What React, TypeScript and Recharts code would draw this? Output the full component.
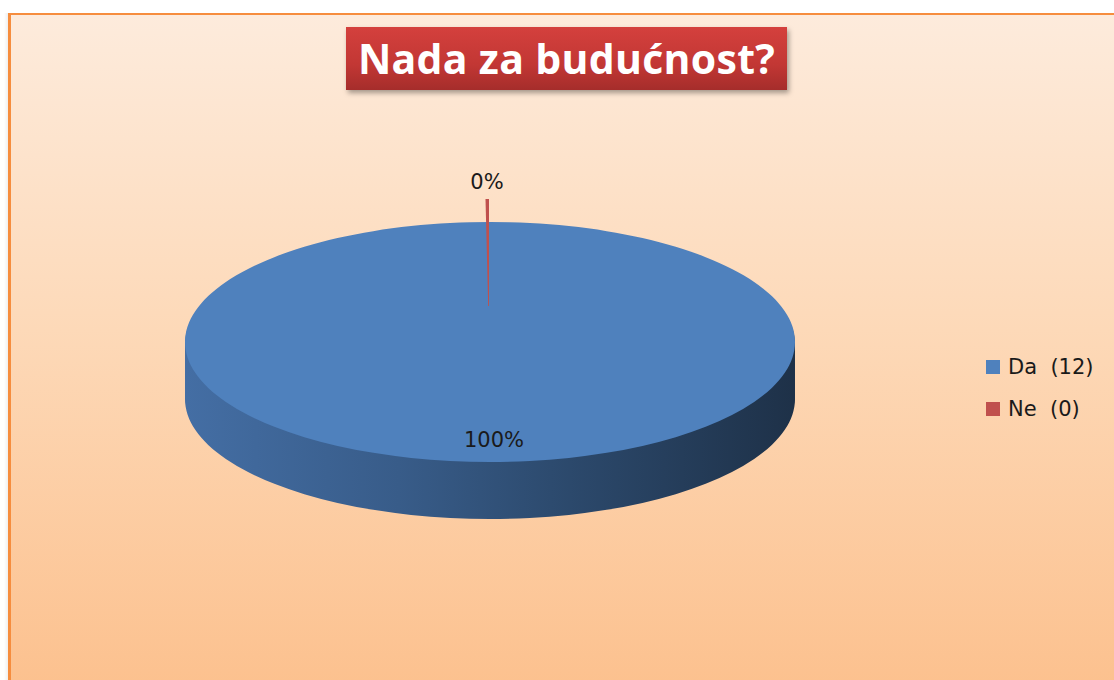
import { PieChart, Pie, Cell, Legend } from "recharts";

// chart data
const CATEGORIES = ["Da", "Ne"];
const COUNTS = [12, 0];
const COLORS = ["#4f81bd", "#c0504d"];
const TITLE = "Nada za budućnost?";

// geometry of the tilted pie (screen px)
const CX = 490;
const CY = 342;
const RX = 305;
const RY = 120;
const K = RY / RX;
const DEPTH = 57;
const SIDE_OFFSETS = Array.from({ length: 12 }, (_, i) => DEPTH - i * 5);

const pieData = CATEGORIES.map((name, i) => ({ name, value: COUNTS[i] }));

const renderLabel = (props: any) => {
  const { midAngle, percent } = props;
  const rad = (-midAngle * Math.PI) / 180;
  const f = percent > 0 ? 0.82 : 1.33;
  const x = CX + RX * f * Math.cos(rad) + (percent > 0 ? 4 : -3);
  const y = CY + RY * f * Math.sin(rad);
  return (
    <text
      x={x}
      y={y}
      textAnchor="middle"
      dominantBaseline="central"
      fill="#1a1a1a"
      fontSize={21}
      fontFamily="'DejaVu Sans', sans-serif"
    >
      {`${Math.round(percent * 100)}%`}
    </text>
  );
};

// zero slice: Excel still shows a thin red sliver at the top
const renderLabelLine = (props: any) => {
  if (props.percent > 0) return <g />;
  const top = CY - RY - 23;
  const bottom = CY - RY * 0.3;
  return (
    <path
      d={`M${CX - 4.5},${top} L${CX - 1},${top} L${CX - 1},${bottom} L${CX - 1.8},${bottom} Z`}
      fill={COLORS[1]}
      stroke="none"
    />
  );
};

const renderLegend = () => (
  <div style={{ fontFamily: "'DejaVu Sans', sans-serif", fontSize: 21, color: "#1a1a1a" }}>
    {CATEGORIES.map((name, i) => (
      <div
        key={name}
        style={{ display: "flex", alignItems: "center", height: 42, whiteSpace: "pre" }}
      >
        <span
          style={{
            width: 14,
            height: 14,
            background: COLORS[i],
            display: "inline-block",
            marginRight: 8,
          }}
        />
        {`${name}  (${COUNTS[i]})`}
      </div>
    ))}
  </div>
);

export default function App() {
  return (
    <div
      style={{
        position: "absolute",
        left: 0,
        top: 0,
        width: 1114,
        height: 680,
        overflow: "hidden",
        background: "#fff",
      }}
    >
      <style>{`
        .pie3d .recharts-sector {
          transform-box: view-box;
          transform-origin: 0 0;
          transform: scaleY(${K});
        }
      `}</style>
      <div
        style={{
          position: "absolute",
          left: 4,
          top: 13,
          width: 5,
          height: 700,
          background: "linear-gradient(to right, rgba(0,0,0,0), rgba(0,0,0,0.08))",
        }}
      />
      <div
        style={{
          position: "absolute",
          left: 8,
          top: 13,
          width: 1130,
          height: 700,
          borderTop: "2px solid #f68d3e",
          borderLeft: "3px solid #f68d3e",
          background: "linear-gradient(to bottom, #fdebdc 0%, #fdd9b8 45%, #fcbf8b 100%)",
        }}
      />
      <div
        style={{
          position: "absolute",
          left: 346,
          top: 27,
          width: 441,
          height: 63,
          background: "linear-gradient(to bottom, #d4403d 0%, #c23734 60%, #a52d2b 100%)",
          boxShadow: "2px 3px 5px rgba(0,0,0,0.35)",
          color: "#fff",
          fontFamily: "'Open Sans', sans-serif",
          fontWeight: 700,
          fontSize: 41,
          letterSpacing: 0.3,
          lineHeight: "63px",
          textAlign: "center",
          whiteSpace: "nowrap",
        }}
      >
        {TITLE}
      </div>
      <div className="pie3d" style={{ position: "absolute", left: 0, top: 0 }}>
        <PieChart width={1114} height={680} margin={{ top: 0, right: 0, bottom: 0, left: 0 }}>
          <defs>
            <linearGradient
              id="sideGrad"
              gradientUnits="userSpaceOnUse"
              x1={CX - RX}
              y1={0}
              x2={CX + RX}
              y2={0}
            >
              <stop offset="0%" stopColor="#446ea4" />
              <stop offset="35%" stopColor="#385c89" />
              <stop offset="60%" stopColor="#2d4b6f" />
              <stop offset="100%" stopColor="#1e3148" />
            </linearGradient>
          </defs>
          {SIDE_OFFSETS.map((d) => (
            <Pie
              key={d}
              data={pieData}
              dataKey="value"
              nameKey="name"
              cx={CX}
              cy={(CY + d) / K}
              outerRadius={RX}
              startAngle={90}
              endAngle={-270}
              stroke="none"
              label={false}
              labelLine={false}
              legendType="none"
              isAnimationActive={false}
            >
              {pieData.map((e, i) => (
                <Cell key={e.name} fill={i === 0 ? "url(#sideGrad)" : "#8c3a38"} />
              ))}
            </Pie>
          ))}
          <Pie
            data={pieData}
            dataKey="value"
            nameKey="name"
            cx={CX}
            cy={CY / K}
            outerRadius={RX}
            startAngle={90}
            endAngle={-270}
            stroke="none"
            label={renderLabel}
            labelLine={renderLabelLine}
            legendType="square"
            isAnimationActive={false}
          >
            {pieData.map((e, i) => (
              <Cell key={e.name} fill={COLORS[i]} />
            ))}
          </Pie>
          <Legend
            layout="vertical"
            content={renderLegend}
            wrapperStyle={{ position: "absolute", left: 986, top: 346, width: 128 }}
          />
        </PieChart>
      </div>
    </div>
  );
}
